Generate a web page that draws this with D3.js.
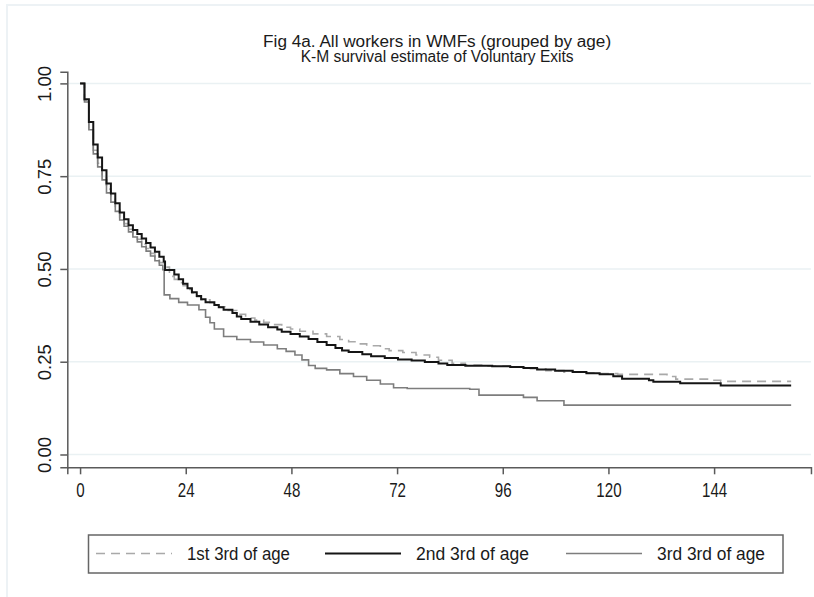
<!DOCTYPE html>
<html>
<head>
<meta charset="utf-8">
<script src="https://cdn.jsdelivr.net/npm/d3@7"></script>
<style>
  html, body { margin: 0; padding: 0; background: #fff; }
  svg { display: block; }
  text { font-family: "Liberation Sans", Arial, Helvetica, sans-serif; fill: #1a1a1a; }
</style>
</head>
<body>
<svg id="chart" width="814" height="597"></svg>
<script>
// Kaplan-Meier survival of voluntary exits, by age tercile (months since hire -> share still employed)
const titleLines = ["Fig 4a. All workers in WMFs (grouped by age)", "K-M survival estimate of Voluntary Exits"];
const xTicks = [0, 24, 48, 72, 96, 120, 144];
const yTicks = [0, 0.25, 0.5, 0.75, 1];
const seriesNames = ["1st 3rd of age", "2nd 3rd of age", "3rd 3rd of age"];
const lastMonth = 161.5;

const firstThird = [
  [0, 1.0], [1, 0.955], [2, 0.88], [3, 0.82], [4, 0.785], [5, 0.75], [6, 0.715], [7, 0.69],
  [8, 0.665], [9, 0.64], [10, 0.622], [11, 0.607], [12, 0.593], [13, 0.58], [14, 0.567],
  [15, 0.555], [16, 0.542], [17, 0.53], [18, 0.517], [19, 0.505], [20.3, 0.48], [21.4, 0.472],
  [22.4, 0.463], [23.4, 0.455], [24.4, 0.445], [25.4, 0.435], [26.5, 0.425], [27.5, 0.417],
  [29.5, 0.409], [31.5, 0.398], [33.6, 0.388], [35.6, 0.378], [37.6, 0.368], [39.7, 0.362],
  [41.7, 0.356], [43.8, 0.35], [45.8, 0.343], [47.8, 0.338], [49.9, 0.332], [52.9, 0.325],
  [56, 0.318], [59, 0.31], [61, 0.304], [63.1, 0.298], [65.1, 0.293], [68.2, 0.285],
  [70.2, 0.28], [73.3, 0.275], [76.3, 0.268], [79.4, 0.262], [81.4, 0.254], [84.5, 0.246],
  [87.5, 0.241], [91.6, 0.238], [97.7, 0.235], [101.8, 0.231], [105.8, 0.226], [109.9, 0.222],
  [114, 0.22], [118, 0.218], [122.1, 0.216], [133.3, 0.21], [135.3, 0.203], [142.5, 0.2],
  [145.5, 0.197]
];

const secondThird = [
  [0, 1.0], [1, 0.957], [2, 0.896], [3, 0.835], [4, 0.8], [5, 0.766], [6, 0.73], [7, 0.703],
  [8, 0.677], [9, 0.652], [10, 0.634], [11, 0.618], [12, 0.605], [13, 0.594], [14, 0.582],
  [15, 0.57], [16, 0.558], [17, 0.546], [18, 0.533], [19, 0.52], [19.3, 0.497], [21.4, 0.485],
  [22.4, 0.472], [23.4, 0.46], [24.4, 0.448], [25.4, 0.437], [26.5, 0.427], [27.5, 0.418],
  [28.5, 0.41], [30.5, 0.403], [31.5, 0.397], [32.6, 0.39], [34.6, 0.381], [35.6, 0.372],
  [36.6, 0.365], [38.7, 0.358], [40.7, 0.35], [42.7, 0.343], [44.8, 0.337], [45.8, 0.331],
  [47.8, 0.325], [49.9, 0.318], [51.9, 0.311], [53.9, 0.303], [56, 0.295], [58, 0.287],
  [59.5, 0.28], [61, 0.276], [64.1, 0.27], [66.1, 0.265], [69.2, 0.26], [72.2, 0.256],
  [75.3, 0.253], [78.3, 0.249], [81.4, 0.245], [83.4, 0.241], [87.5, 0.239], [93.6, 0.238],
  [97.7, 0.236], [100.7, 0.233], [103.8, 0.229], [107.9, 0.226], [111.9, 0.222], [115, 0.219],
  [118, 0.216], [121.1, 0.211], [123.1, 0.204], [129.2, 0.2], [130.2, 0.196], [136.3, 0.192],
  [145.5, 0.186]
];

const thirdThird = [
  [0, 1.0], [1, 0.95], [2, 0.875], [3, 0.81], [4, 0.775], [5, 0.74], [6, 0.705], [7, 0.68],
  [8, 0.655], [9, 0.632], [10, 0.615], [11, 0.6], [12, 0.586], [13, 0.573], [14, 0.56],
  [15, 0.548], [16, 0.535], [17, 0.522], [18, 0.51], [18.8, 0.498], [19.1, 0.43], [20.4, 0.42],
  [22.4, 0.41], [24.4, 0.403], [27, 0.39], [28.5, 0.37], [29.5, 0.355], [30.5, 0.338],
  [32.6, 0.318], [35.6, 0.31], [38.7, 0.303], [41.7, 0.295], [44.8, 0.285], [46.8, 0.278],
  [48.8, 0.268], [50.4, 0.255], [51.9, 0.24], [53.4, 0.232], [56, 0.228], [59, 0.218],
  [62.1, 0.21], [65.1, 0.2], [68.2, 0.19], [71.2, 0.18], [74.3, 0.178], [88.5, 0.176],
  [90.6, 0.16], [100.7, 0.154], [103.8, 0.145], [109.9, 0.133]
];

const seriesData = [firstThird, secondThird, thirdThird];
const seriesStyle = [
  { color: "#a9a9a9", width: 1.6, dash: "9,6" },
  { color: "#151515", width: 2.0, dash: null },
  { color: "#7d7d7d", width: 1.6, dash: null }
];

const svg = d3.select("#chart");

// faint outer frame of the graph region
svg.append("rect")
  .attr("x", 7).attr("y", 5).attr("width", 812).attr("height", 600)
  .attr("fill", "none").attr("stroke", "#edf2f5").attr("stroke-width", 2);

const xLo = -2.9, xHi = 166;
const x = d3.scaleLinear().domain([xLo, xHi]).range([67.3, 67.3 + (xHi - xLo) * 4.403]);
const yLo = -0.0345, yHi = 1.0315;
const y = d3.scaleLinear().domain([yLo, yHi]).range([467.3, 71.7]);

// horizontal grid
svg.append("g").selectAll("line").data(yTicks).join("line")
  .attr("x1", x(xLo)).attr("x2", x(xHi))
  .attr("y1", d => y(d)).attr("y2", d => y(d))
  .attr("stroke", "#eaf1f3").attr("stroke-width", 1.5);

// survival curves (step functions)
const line = d3.line().x(d => x(d[0])).y(d => y(d[1])).curve(d3.curveStepAfter);
const order = [0, 2, 1];
order.forEach(i => {
  const s = seriesData[i];
  const st = seriesStyle[i];
  svg.append("path")
    .datum(s.concat([[lastMonth, s[s.length - 1][1]]]))
    .attr("d", line)
    .attr("fill", "none")
    .attr("stroke", st.color)
    .attr("stroke-width", st.width)
    .attr("stroke-dasharray", st.dash);
});

// axes
const tickFont = 21;
const xAxis = svg.append("g").attr("transform", `translate(0,${y(yLo)})`)
  .call(d3.axisBottom(x).tickValues(xTicks).tickSize(7).tickPadding(8).tickFormat(d3.format("d")));
xAxis.attr("font-size", tickFont).attr("font-family", null);
xAxis.select(".domain").attr("stroke", "#5a5a5a").attr("stroke-width", 1.5);
xAxis.selectAll(".tick line").attr("stroke", "#5a5a5a").attr("stroke-width", 1.5);
xAxis.selectAll(".tick text")
  .attr("fill", "#1a1a1a")
  .attr("textLength", d => String(d).length * tickFont * 0.556 * 0.72)
  .attr("lengthAdjust", "spacingAndGlyphs");

const yAxis = svg.append("g").attr("transform", `translate(${x(xLo)},0)`)
  .call(d3.axisLeft(y).tickValues(yTicks).tickSize(7).tickFormat(d3.format(".2f")));
yAxis.attr("font-size", 18.5).attr("font-family", null);
yAxis.select(".domain").attr("stroke", "#5a5a5a").attr("stroke-width", 1.5);
yAxis.selectAll(".tick line").attr("stroke", "#5a5a5a").attr("stroke-width", 1.5);
yAxis.selectAll(".tick text")
  .attr("fill", "#1a1a1a")
  .attr("text-anchor", "middle")
  .attr("dy", 0)
  .attr("x", 0).attr("y", 0)
  .attr("transform", "translate(-16.5,0) rotate(-90)");

// title
const titleWidths = [348, 273];
svg.append("g").selectAll("text").data(titleLines).join("text")
  .attr("x", (x(xLo) + x(xHi)) / 2 - 2)
  .attr("y", (d, i) => 47 + i * 14.5)
  .attr("text-anchor", "middle")
  .attr("font-size", 16)
  .attr("textLength", (d, i) => titleWidths[i])
  .attr("lengthAdjust", "spacingAndGlyphs")
  .text(d => d);

// legend
const legend = svg.append("g");
legend.append("rect")
  .attr("x", 88.5).attr("y", 535).attr("width", 694.5).attr("height", 38)
  .attr("fill", "#fff").attr("stroke", "#666").attr("stroke-width", 1.5);
const keyX = [96, 325, 566];
const labelX = [187, 416, 657];
const labelW = [103, 113, 108];
seriesNames.forEach((name, i) => {
  const st = seriesStyle[i];
  legend.append("line")
    .attr("x1", keyX[i]).attr("x2", keyX[i] + 76)
    .attr("y1", 553.5).attr("y2", 553.5)
    .attr("stroke", st.color).attr("stroke-width", st.width)
    .attr("stroke-dasharray", st.dash);
  legend.append("text")
    .attr("x", labelX[i]).attr("y", 560)
    .attr("font-size", 17.5)
    .attr("textLength", labelW[i])
    .attr("lengthAdjust", "spacingAndGlyphs")
    .text(name);
});
</script>
</body>
</html>
